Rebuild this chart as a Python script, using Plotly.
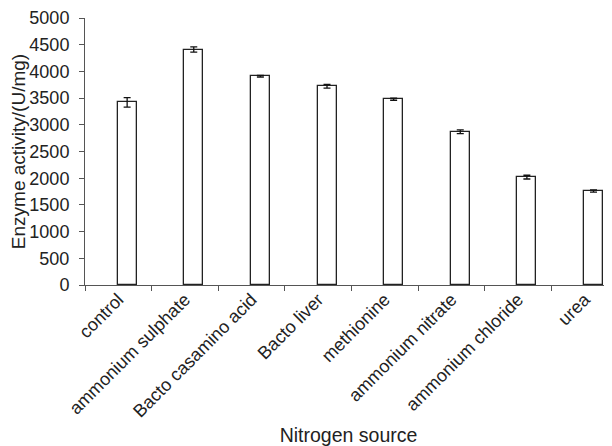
import plotly.graph_objects as go

categories = ["control", "ammonium sulphate", "Bacto casamino acid", "Bacto liver",
              "methionine", "ammonium nitrate", "ammonium chloride", "urea"]
activity = [3420, 4410, 3910, 3720, 3480, 2870, 2020, 1760]
errors = [90, 50, 15, 35, 20, 35, 35, 20]
y_ticks = [0, 500, 1000, 1500, 2000, 2500, 3000, 3500, 4000, 4500, 5000]

FONT = "Liberation Sans, Arial, sans-serif"

fig = go.Figure()
fig.add_trace(go.Bar(
    x=categories, y=activity,
    offset=-0.01, width=0.285,
    marker=dict(color="white", line=dict(color="#222222", width=1.3)),
    error_y=dict(type="data", array=errors, visible=True,
                 color="#111111", thickness=1.3, width=3.5),
    showlegend=False,
))

# page has an 8px body margin, so the figure is sized 604x438
fig.update_layout(
    width=604, height=438,
    margin=dict(l=77, r=0, t=10, b=161),
    paper_bgcolor="white", plot_bgcolor="white",
    font=dict(family=FONT, color="#222222"),
    bargap=0,
)
fig.update_xaxes(
    type="category", range=[-0.5, 7.41], automargin=False,
    showline=True, linecolor="#555555", linewidth=1,
    ticks="outside", ticklen=5, tickcolor="#555555", tickson="boundaries",
    tickangle=-45, tickfont=dict(size=18, family=FONT, color="#222222"),
    ticklabelshift=0, ticklabelstandoff=-4,
    showgrid=False, zeroline=False,
    title=dict(text="Nitrogen source", font=dict(size=19.5, family=FONT, color="#222222"),
               standoff=16),
)
fig.update_yaxes(
    range=[0, 5000], tickvals=y_ticks, automargin=False,
    showline=True, linecolor="#555555", linewidth=1,
    ticks="outside", ticklen=5, tickcolor="#555555",
    ticklabelstandoff=6,
    tickfont=dict(size=18, family=FONT, color="#222222"),
    showgrid=False, zeroline=False,
    title=dict(text="Enzyme activity/(U/mg)", font=dict(size=19, family=FONT, color="#222222"),
               standoff=5),
)

fig.write_html("out.html")
